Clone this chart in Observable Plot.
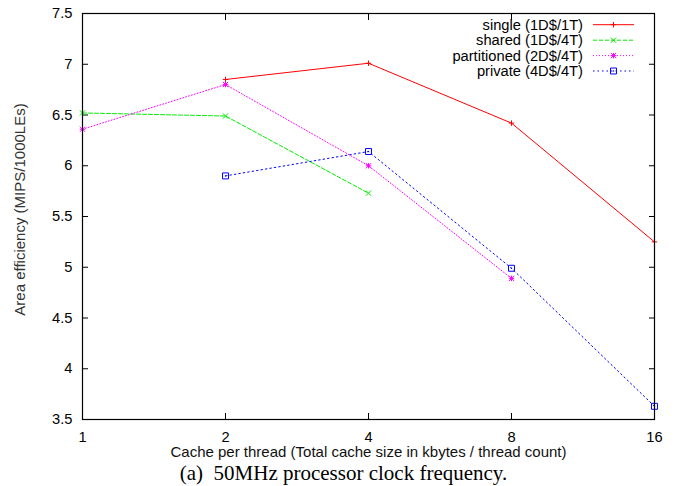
<!DOCTYPE html>
<html><head><meta charset="utf-8">
<script src="https://cdn.jsdelivr.net/npm/d3@7"></script>
<script src="https://cdn.jsdelivr.net/npm/@observablehq/plot@0.6"></script>
<style>
body{margin:0;background:#fff}
#chart svg{display:block}
#cap{font-family:"Liberation Serif",serif;font-size:21px;line-height:normal;text-align:center;width:677px;padding-left:10px;box-sizing:border-box;color:#000;margin:0}
</style>
</head><body><div id="chart"></div><div id="cap">(a)&nbsp; 50MHz processor clock frequency.</div>
<script>
const cacheSizes = [1, 2, 4, 8, 16];
const yTicks = [3.5, 4, 4.5, 5, 5.5, 6, 6.5, 7, 7.5];
const seriesNames = ["single (1D$/1T)", "shared (1D$/4T)", "partitioned (2D$/4T)", "private (4D$/4T)"];
const single = [null, 6.85, 7.01, 6.42, 5.25];
const shared = [6.52, 6.49, 5.73, null, null];
const partitioned = [6.36, 6.80, 6.00, 4.89, null];
const privateV = [null, 5.90, 6.14, 4.99, 3.63];
const xLabel = "Cache per thread (Total cache size in kbytes / thread count)";
const yLabel = "Area efficiency (MIPS/1000LEs)";

const seriesValues = [single, shared, partitioned, privateV];
const styles = [
  {stroke: "#ff0000", dash: null, symbols: [["plus", 1.9]]},
  {stroke: "#00ee00", dash: "4,2", symbols: [["times", 2.5]]},
  {stroke: "#ff00ff", dash: "1,2", symbols: [["plus", 1.9], ["times", 2.5]]},
  {stroke: "#0000ff", dash: "1.5,3", symbols: [["square2", 3.8]], centerDot: true}
];

const marks = [];
seriesValues.forEach((vals, k) => {
  const rows = cacheSizes.map((x, i) => ({x, y: vals[i]})).filter(d => d.y != null);
  const s = styles[k];
  marks.push(Plot.line(rows, {x: "x", y: "y", stroke: s.stroke, strokeWidth: 1, strokeDasharray: s.dash}));
  s.symbols.forEach(([sym, r]) => {
    marks.push(Plot.dot(rows, {x: "x", y: "y", symbol: sym, r, stroke: s.stroke, strokeWidth: 1, fill: "none"}));
  });
  if (s.centerDot) marks.push(Plot.dot(rows, {x: "x", y: "y", r: 0.7, fill: s.stroke, stroke: "none"}));
});

const fmt = d => String(d);
const chart = Plot.plot({
  width: 677,
  height: 461,
  marginTop: 13,
  marginBottom: 42,
  marginLeft: 82,
  marginRight: 23,
  style: {fontFamily: "Liberation Sans, Arial, sans-serif", fontSize: "14.7px", background: "#fff", color: "#000"},
  x: {type: "log", base: 2, domain: [1, 16]},
  y: {domain: [3.5, 7.5]},
  marks: [
    Plot.axisX({anchor: "bottom", ticks: cacheSizes, tickSize: -6, tickPadding: 18, tickFormat: fmt, label: null, fontSize: 14.7}),
    Plot.axisX({anchor: "top", ticks: cacheSizes, tickSize: -6, tickFormat: () => "", label: null}),
    Plot.axisY({anchor: "left", ticks: yTicks, tickSize: -6, tickPadding: 16, tickFormat: fmt, label: null, fontSize: 14.7}),
    Plot.axisY({anchor: "right", ticks: yTicks, tickSize: -6, tickFormat: () => "", label: null}),
    ...marks,
    Plot.frame({stroke: "#000", strokeWidth: 1.2}),
    Plot.text([xLabel], {frameAnchor: "bottom", dy: 33, lineAnchor: "middle", textAnchor: "middle", text: d => d, fontSize: 15, fill: "#111"}),
    Plot.text([yLabel], {frameAnchor: "left", dx: -62, dy: -7, rotate: -90, textAnchor: "middle", lineAnchor: "middle", text: d => d, fontSize: 15, fill: "#333"})
  ]
});
document.getElementById("chart").appendChild(chart);

// legend (top-right, inside frame)
const svg = d3.select(chart);
const lg = svg.append("g").attr("font-family", "Liberation Sans, Arial, sans-serif").attr("font-size", 14.7);
const rowY = [24.7, 40.2, 55.6, 71];
const symMap = {plus: d3.symbolPlus, times: d3.symbolTimes, square2: d3.symbolSquare2};
seriesNames.forEach((name, k) => {
  const s = styles[k];
  const y = rowY[k];
  lg.append("text").attr("x", 583).attr("y", y).attr("dy", "0.35em").attr("text-anchor", "end").attr("fill", "#000").text(name);
  lg.append("line").attr("x1", 593).attr("x2", 634).attr("y1", y).attr("y2", y)
    .attr("stroke", s.stroke).attr("stroke-width", 1).attr("stroke-dasharray", s.dash);
  s.symbols.forEach(([sym, r]) => {
    lg.append("path").attr("transform", `translate(613.5,${y})`)
      .attr("d", d3.symbol(symMap[sym], Math.PI * r * r)())
      .attr("fill", "none").attr("stroke", s.stroke).attr("stroke-width", 1);
  });
  if (s.centerDot) lg.append("circle").attr("cx", 613.5).attr("cy", y).attr("r", 0.7).attr("fill", s.stroke);
});
</script>
</body></html>
